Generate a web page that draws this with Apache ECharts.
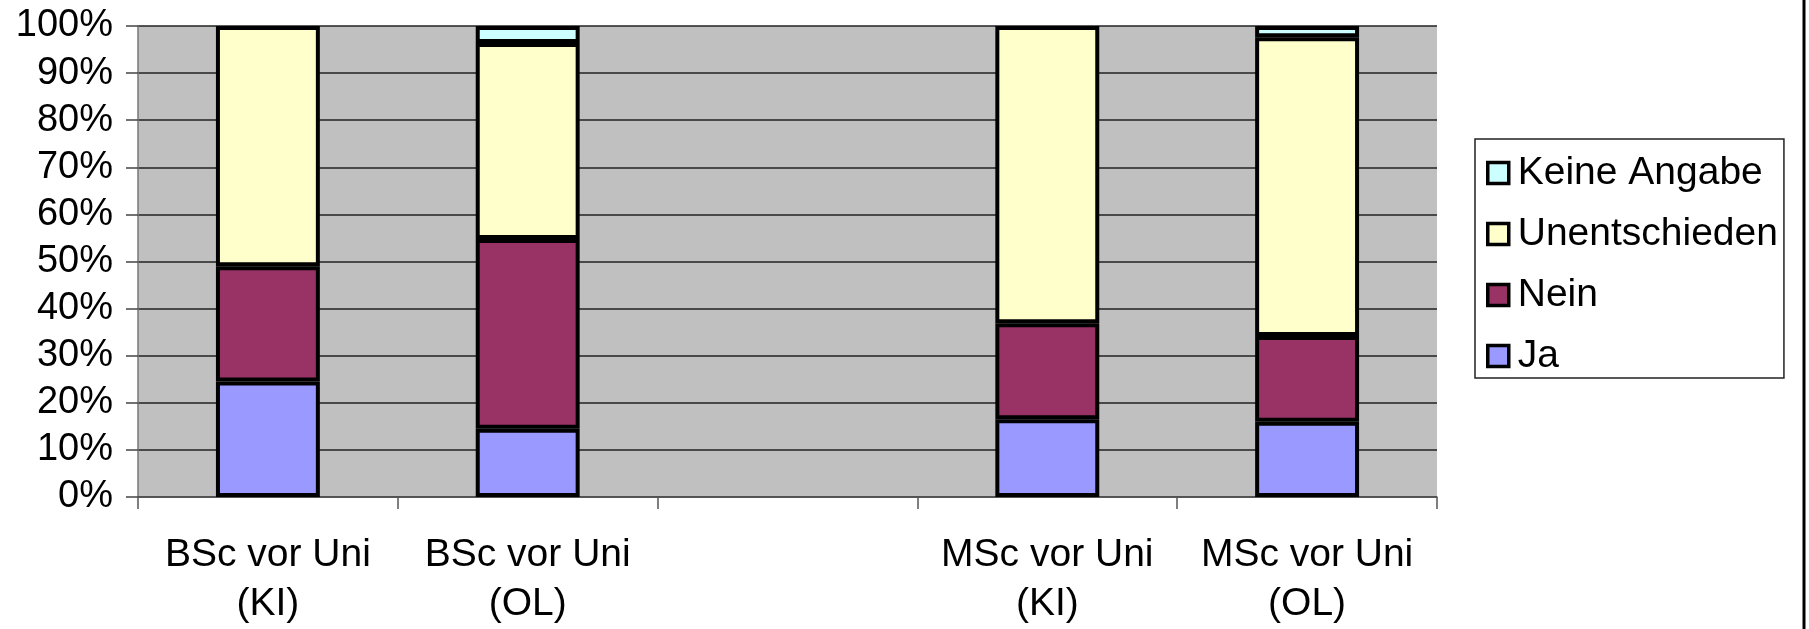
<!DOCTYPE html>
<html>
<head>
<meta charset="utf-8">
<script src="https://cdn.jsdelivr.net/npm/echarts@6/dist/echarts.min.js"></script>
<style>
  html, body { margin: 0; padding: 0; background: #fff; }
  #chart { width: 1809px; height: 629px; }
</style>
</head>
<body>
<div id="chart"></div>
<script>
// categories (the third slot is an empty gap in the original)
const categories = ["BSc vor Uni\n(KI)", "BSc vor Uni\n(OL)", "", "MSc vor Uni\n(KI)", "MSc vor Uni\n(OL)"];
const yTicks = [0, 10, 20, 30, 40, 50, 60, 70, 80, 90, 100];

// shares in percent
const ja = [24.5, 14.5, null, 16.5, 16.0];
const nein = [24.5, 40.3, null, 20.4, 18.2];
const unentschieden = [51.0, 41.6, null, 63.1, 63.4];
const keineAngabe = [null, 3.6, null, null, 2.4];

const font = "'Liberation Sans', Arial, sans-serif";

const chart = echarts.init(document.getElementById("chart"));

const barSeries = (name, data, color) => ({
  name: name,
  type: "bar",
  stack: "total",
  data: data,
  barWidth: "40%",
  itemStyle: { color: color, borderColor: "#000", borderWidth: 4 },
  emphasis: { disabled: true },
});

chart.setOption({
  animation: false,
  backgroundColor: "#fff",
  textStyle: { fontFamily: font },
  grid: { left: 138, right: 372, top: 26, bottom: 132, containLabel: false, outerBoundsMode: "none",
    show: true, backgroundColor: "#c0c0c0", borderWidth: 0 },
  legend: {
    orient: "vertical",
    left: 1475,
    top: 139,
    padding: [14, 6, 2, 11],
    itemGap: 21,
    itemWidth: 21,
    itemHeight: 21,
    icon: "rect",
    backgroundColor: "#fff",
    borderColor: "#222",
    borderWidth: 1.5,
    borderRadius: 0,
    data: ["Keine Angabe", "Unentschieden", "Nein", "Ja"],
    itemStyle: { borderColor: "#000", borderWidth: 3.5 },
    textStyle: { fontFamily: font, fontSize: 39, color: "#000", lineHeight: 40, padding: [0, 0, 0, 4] },
  },
  xAxis: {
    type: "category",
    data: categories,
    axisLine: { lineStyle: { color: "#555", width: 1.5 } },
    axisTick: { show: true, interval: 0, length: 12, lineStyle: { color: "#555", width: 1.5 } },
    axisLabel: { interval: 0, color: "#000", fontSize: 39, fontFamily: font, lineHeight: 49, margin: 34 },
  },
  yAxis: {
    type: "value",
    min: yTicks[0],
    max: yTicks[yTicks.length - 1],
    interval: 10,
    axisLine: { show: true, lineStyle: { color: "#777", width: 1.5 } },
    axisTick: { show: true, length: 12, lineStyle: { color: "#444", width: 1.5 } },
    axisLabel: { color: "#000", fontSize: 38, fontFamily: font, margin: 25, formatter: "{value}%" },
    splitLine: { show: true, lineStyle: { color: "#222", width: 1.5 } },
  },
  series: [
    barSeries("Ja", ja, "#9999ff"),
    barSeries("Nein", nein, "#993366"),
    barSeries("Unentschieden", unentschieden, "#ffffcc"),
    barSeries("Keine Angabe", keineAngabe, "#ccffff"),
  ],
  graphic: [
    // chart area frame, only its right edge falls inside the picture
    { type: "line", shape: { x1: 1804, y1: 0, x2: 1804, y2: 629 }, style: { stroke: "#000", lineWidth: 3 } },
  ],
});
</script>
</body>
</html>
